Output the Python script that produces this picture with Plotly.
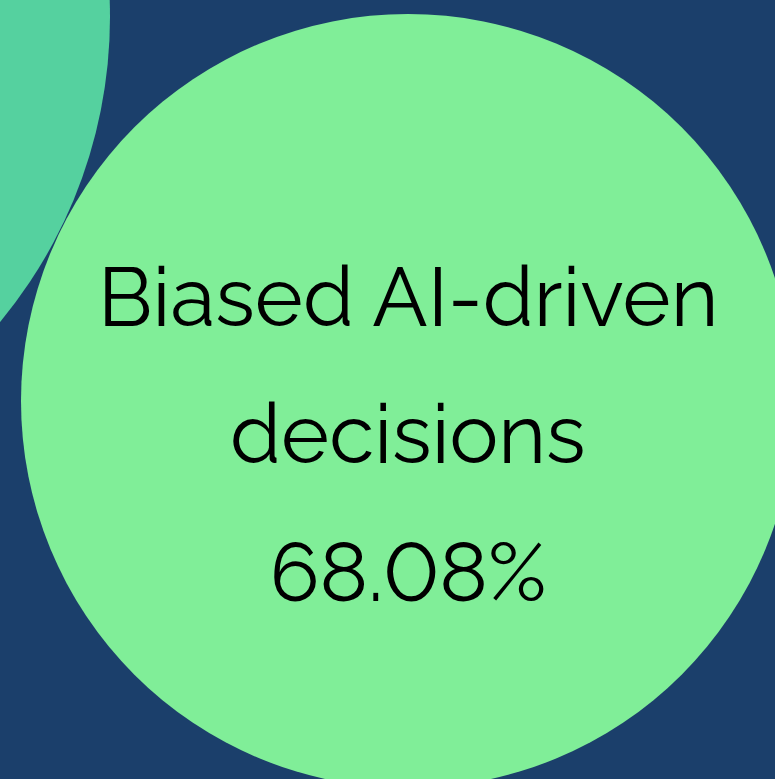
import plotly.graph_objects as go

# Data
labels = ["Biased AI-driven decisions"]
values = [68.08]
label_lines = [["Biased AI-driven", "decisions"]]

# Layout geometry (pixel space of the packed-bubble view)
W, H = 775, 779
circle_cx = [-368, 408]
circle_cy = [17, 401]
circle_r = [478, 387]
circle_colors = ["#55D19F", "#80EE98"]
bg_color = "#1B3F6B"

fig = go.Figure()
fig.add_trace(go.Scatter(x=[0, W], y=[0, H], mode="markers",
                         marker=dict(opacity=0), hoverinfo="skip", showlegend=False))

for cx, cy, r, c in zip(circle_cx, circle_cy, circle_r, circle_colors):
    fig.add_shape(type="circle", xref="x", yref="y",
                  x0=cx - r, x1=cx + r, y0=cy - r, y1=cy + r,
                  fillcolor=c, line=dict(width=0), layer="below")

# Labels for the big bubble
font = dict(family="Raleway, Lato, Noto Sans, sans-serif", size=82, color="#000000", weight=400)
text_lines = label_lines[0] + [f"{values[0]:.2f}%"]
line_y = [297, 434, 572]
for t, y in zip(text_lines, line_y):
    fig.add_annotation(x=circle_cx[1], y=y, xref="x", yref="y",
                       text=f'<span style="font-variant-numeric:lining-nums">{t}</span>',
                       showarrow=False, font=font, xanchor="center", yanchor="middle")

fig.update_xaxes(range=[0, W], visible=False)
fig.update_yaxes(range=[H, 0], visible=False)
fig.update_layout(width=W, height=H, margin=dict(l=0, r=0, t=0, b=0),
                  paper_bgcolor=bg_color, plot_bgcolor=bg_color, showlegend=False)

fig.write_html("out.html", config={"displayModeBar": False},
               post_script="document.body.style.margin='0';document.body.style.background='%s';" % bg_color)
